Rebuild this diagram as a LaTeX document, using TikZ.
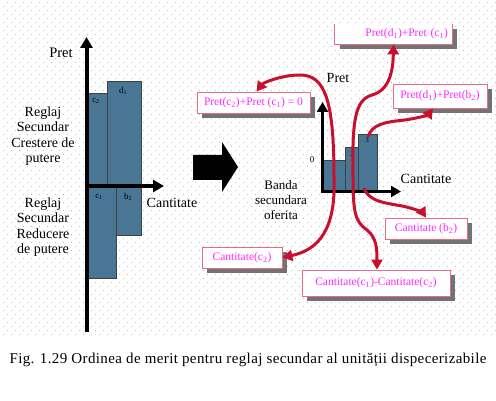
\documentclass[tikz,border=0pt]{standalone}
\usepackage{fontspec}
\setmainfont{Liberation Serif}
\usetikzlibrary{arrows.meta,shadows}
\definecolor{barblue}{RGB}{74,118,150}
\definecolor{arrred}{RGB}{200,16,46}
\definecolor{boxpink}{RGB}{230,110,130}
\definecolor{txtpink}{RGB}{255,40,255}
\definecolor{griddot}{RGB}{185,185,185}
\tikzset{
  bar/.style={draw=black!75, fill=barblue, line width=0.8pt},
  pbox/.style={draw=boxpink, fill=white, text=txtpink, line width=0.8pt, inner sep=2pt,
    font=\fontsize{11.5}{13}\selectfont,
    drop shadow={shadow xshift=5pt, shadow yshift=-5pt, fill=black!55, opacity=1}},
  redarr/.style={draw=arrred, line width=3pt, -{Triangle[length=10pt,width=11pt]}},
  bigaxis/.style={line width=4pt, -{Triangle[length=11pt,width=12pt]}},
  smallaxis/.style={line width=3pt, -{Triangle[length=10pt,width=11pt]}},
  lbl/.style={font=\fontsize{13}{15.3}\selectfont, align=center},
  tiny/.style={font=\fontsize{9}{10}\selectfont, inner sep=0pt},
}
\begin{document}
\begin{tikzpicture}[x=1pt, y=-1pt]
  \useasboundingbox[fill=white] (0,0) rectangle (496,401);

  % dotted canvas
  \foreach \y [count=\i] in {2,6,...,334} {
    \pgfmathsetmacro{\off}{mod(\i,2)*4}
    \foreach \x in {3,11,...,495}
      \fill[griddot] (\x+\off,\y) rectangle ++(1,1);
  }

  % left chart
  \draw[bar] (86,93) rectangle (107,186);
  \draw[bar] (107,81) rectangle (141,186);
  \draw[bar] (86,186) rectangle (116,278);
  \draw[bar] (116,186) rectangle (141,235);
  \node[tiny] (lc2) at (96,101) {c\textsubscript{2}};
  \node[tiny] (ld1) at (123,91) {d\textsubscript{1}};
  \node[tiny] (lc1) at (99,197) {c\textsubscript{1}};
  \node[tiny] (lb2) at (128,197) {b\textsubscript{2}};
  \draw[bigaxis] (86.5,332) -- (86.5,37);
  \draw[bigaxis] (84.5,186) -- (164,186);
  \node[lbl, font=\fontsize{14.5}{16}\selectfont] (lpret) at (61,53) {Pret};
  \node[lbl, font=\fontsize{14}{15.3}\selectfont] (lcant) at (172,203) {Cantitate};
  \node[lbl, font=\fontsize{14}{15.3}\selectfont] (creste) at (43,136)
    {Reglaj\\Secundar\\Crestere de\\putere};
  \node[lbl, font=\fontsize{14}{15.3}\selectfont] (reduce) at (43,227)
    {Reglaj\\Secundar\\Reducere\\de putere};

  % block arrow
  \fill[black] (193,155) -- (222,155) -- (222,142) -- (238,167) -- (222,192)
    -- (222,180) -- (193,180) -- cycle;

  % right chart
  \draw[bar] (322,160) rectangle (345,191);
  \draw[bar] (345,147) rectangle (358,191);
  \draw[bar] (358,134) rectangle (377,191);
  \node[tiny, font=\fontsize{7}{8}\selectfont] (r1) at (334,168) {1};
  \node[tiny, font=\fontsize{7}{8}\selectfont] (r2) at (352,154) {2};
  \node[tiny, font=\fontsize{7}{8}\selectfont] (r3) at (367,140) {3};
  \draw[smallaxis] (322.5,193) -- (322.5,102);
  \draw[smallaxis] (321,191.5) -- (401,191.5);
  \node[tiny] (zero) at (312,160) {0};
  \node[lbl, font=\fontsize{14}{16}\selectfont] (rpret) at (338,78) {Pret};
  \node[lbl, font=\fontsize{14}{16}\selectfont] (rcant) at (426,179) {Cantitate};
  \node[lbl] (banda) at (281,200) {Banda\\secundara\\oferita};

  % price and quantity boxes
  \node[pbox, draw=none, minimum width=117pt, minimum height=20pt, text width=109pt,
    align=right] (pdc) at (393.5,34) {Pret(d\textsubscript{1})+Pret (c\textsubscript{1})};
  \draw[boxpink, line width=0.8pt] (pdc.north west) -- (pdc.south west)
    -- (pdc.south east) -- (pdc.north east);
  \node[pbox, minimum width=113pt, minimum height=21pt] (pcc) at (253.5,102.5)
    {Pret(c\textsubscript{2})+Pret (c\textsubscript{1}) = 0};
  \node[pbox, minimum width=94pt, minimum height=24pt] (pdb) at (440,96)
    {Pret(d\textsubscript{1})+Pret(b\textsubscript{2})};
  \node[pbox, minimum width=82pt, minimum height=21pt] (cb) at (426,228.5)
    {Cantitate (b\textsubscript{2})};
  \node[pbox, minimum width=80pt, minimum height=21pt] (cc) at (242,257.5)
    {Cantitate(c\textsubscript{2})};
  \node[pbox, minimum width=148pt, minimum height=26pt] (ccc) at (376,283)
    {Cantitate(c\textsubscript{1})-Cantitate(c\textsubscript{2})};

  % red connectors
  \coordinate (q1) at (334,178);
  \coordinate (q2) at (353,178);
  \coordinate (q3t) at (368,137);
  \coordinate (q3b) at (364,188);
  \draw[redarr] (q1) .. controls (334,100) and (325,75) .. (300,75)
    .. controls (281,75) and (263,83) .. ([xshift=3pt]pcc.north);
  \draw[redarr] (q1) .. controls (336,230) and (318,250) .. (cc.east);
  \draw[redarr] (q2) .. controls (352,120) and (355,100) .. (372,95)
    .. controls (390,90) and (393,70) .. (pdc.south);
  \draw[redarr] (q2) .. controls (353,215) and (356,222) .. (367,230)
    .. controls (377,238) and (377,250) .. ([xshift=1pt]ccc.north);
  \draw[redarr] (q3t) .. controls (372,124) and (385,122) .. (405,120)
    .. controls (418,118) and (428,115) .. ([xshift=-7pt]pdb.south);
  \draw[redarr] (q3b) .. controls (370,205) and (395,203) .. (410,208)
    .. controls (418,210) and (423,213) .. (cb.north);

  % caption
  \node[font=\fontsize{15}{17}\selectfont\addfontfeatures{LetterSpace=2.5}] (caption)
    at (248,360)
    {Fig. 1.29 Ordinea de merit pentru reglaj secundar al unității dispecerizabile};
\end{tikzpicture}
\end{document}
